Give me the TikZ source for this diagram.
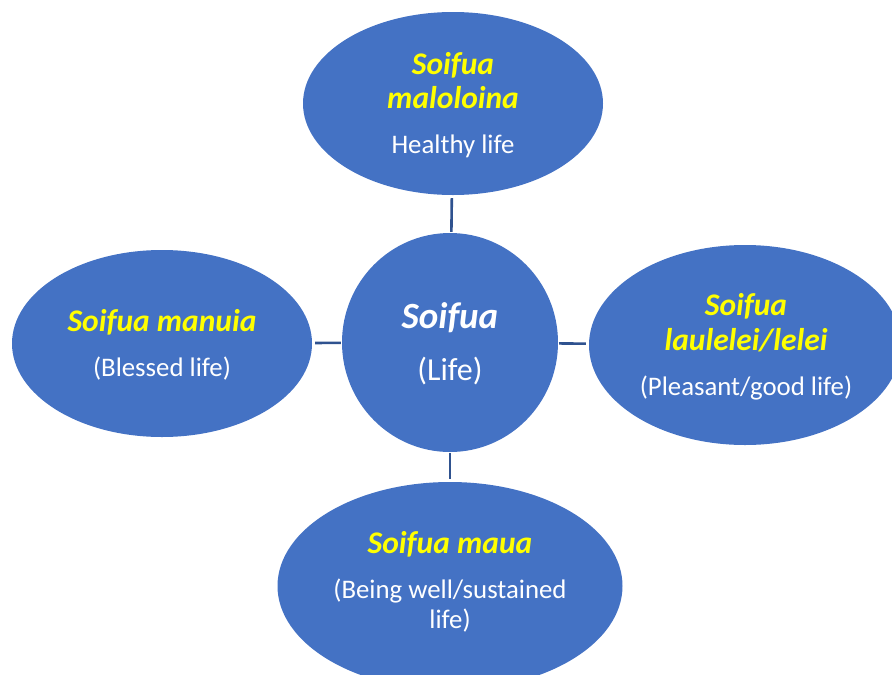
\documentclass[tikz,border=0pt]{standalone}
\usepackage{fontspec}
\setmainfont{Carlito}
\usetikzlibrary{shapes.geometric}
\definecolor{bubble}{HTML}{4472C4}
\definecolor{linkc}{HTML}{2F528F}
\definecolor{ylw}{HTML}{FFFF00}
\tikzset{
  bubble/.style={ellipse, fill=bubble, draw=none, inner sep=0pt},
  ytext/.style={anchor=base, text=ylw, font=\fontsize{31.5}{36}\selectfont\bfseries\itshape},
  wtext/.style={anchor=base, text=white, font=\fontsize{26.8}{30}\selectfont},
  ctitle/.style={anchor=base, text=white, font=\fontsize{37}{42}\selectfont\bfseries\itshape},
  ctext/.style={anchor=base, text=white, font=\fontsize{32}{36}\selectfont},
  link/.style={draw=linkc, line width=2.6pt, shorten <=3pt, shorten >=1pt}
}
\begin{document}
\begin{tikzpicture}[x=1pt,y=-1pt]
\useasboundingbox (0,0) rectangle (892,675);
\begin{scope}
\clip (0,0) rectangle (892,675);
\node[bubble, minimum width=300pt, minimum height=183pt] (top) at (453,103.5) {};
\node[bubble, minimum width=300pt, minimum height=187pt] (left) at (162,343.5) {};
\node[bubble, minimum width=312pt, minimum height=200pt] (right) at (745,345) {};
\node[bubble, minimum width=345pt, minimum height=208pt] (bottom) at (450,586) {};
\node[bubble, minimum width=216pt, minimum height=219pt] (center) at (450,342.5) {};
\end{scope}
\draw[link] (top) -- (center);
\draw[link] (left) -- (center);
\draw[link] (right) -- (center);
\draw[link] (bottom) -- (center);
% texts
\node[ytext] (t1) at (453,74) {Soifua};
\node[ytext] (t2) at (453,108) {maloloina};
\node[wtext] (t3) at (453,153) {Healthy life};
\node[ytext] (l1) at (162,331) {Soifua manuia};
\node[wtext] (l2) at (162,376) {(Blessed life)};
\node[ytext] (r1) at (746,315) {Soifua};
\node[ytext] (r2) at (746,350) {laulelei/lelei};
\node[wtext] (r3) at (746,395) {(Pleasant/good life)};
\node[ytext] (b1) at (450,553) {Soifua maua};
\node[wtext] (b2) at (450,598) {(Being well/sustained};
\node[wtext] (b3) at (450,628) {life)};
\node[ctitle] (c1) at (450,328) {Soifua};
\node[ctext] (c2) at (450,380) {(Life)};
\end{tikzpicture}
\end{document}
